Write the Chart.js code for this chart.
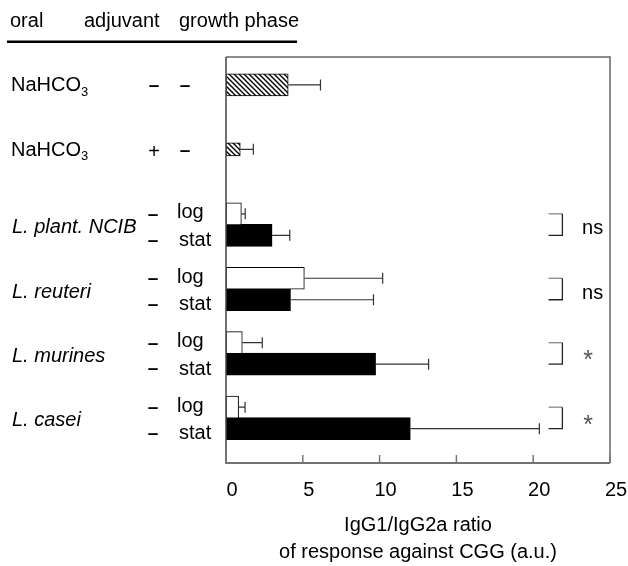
<!DOCTYPE html>
<html>
<head>
<meta charset="utf-8">
<title>IgG1/IgG2a ratio</title>
<script src="https://cdn.jsdelivr.net/npm/chart.js@4.4.1/dist/chart.umd.min.js"></script>
<style>
  html, body { margin: 0; padding: 0; background: #fff; }
  canvas { display: block; }
</style>
</head>
<body>
<canvas id="myChart" width="628" height="566"></canvas>
<script>
// control groups (hatched bars)
const controlNames = ['NaHCO', 'NaHCO'];
const controlAdjuvant = ['-', '+'];
const controlValues = [4.05, 0.93];
const controlErrors = [2.1, 0.85];

// lactobacilli, log vs stat growth phase
const strains = ['L. plant. NCIB', 'L. reuteri', 'L. murines', 'L. casei'];
const logValues = [1.0, 5.1, 1.06, 0.82];
const logErrors = [0.25, 5.1, 1.3, 0.42];
const statValues = [3.0, 4.2, 9.74, 12.0];
const statErrors = [1.15, 5.4, 3.45, 8.4];
const significance = ['ns', 'ns', '*', '*'];

const xTicks = [0, 5, 10, 15, 20, 25];
const xTitle = ['IgG1/IgG2a ratio', 'of response against CGG (a.u.)'];
const headers = ['oral', 'adjuvant', 'growth phase'];

const FONT = '"Liberation Sans", Arial, Helvetica, sans-serif';

// row index on the (hidden) y axis
const controlRow = i => i * 3;
const logRow = j => 6 + j * 3;
const statRow = j => 7 + j * 3;

function hatchPattern() {
    const c = document.createElement('canvas');
    c.width = 5; c.height = 5;
    const g = c.getContext('2d');
    g.fillStyle = '#fff';
    g.fillRect(0, 0, 5, 5);
    g.strokeStyle = '#000';
    g.lineWidth = 1.4;
    g.beginPath();
    g.moveTo(-1, -1); g.lineTo(6, 6);
    g.moveTo(-1, 4); g.lineTo(1, 6);
    g.moveTo(4, -1); g.lineTo(6, 1);
    g.stroke();
    return g.createPattern(c, 'repeat');
}
const hatch = hatchPattern();

const barBase = {
    grouped: false,
    borderColor: '#000',
    borderWidth: 1,
    borderSkipped: false
};

const datasets = [
    Object.assign({}, barBase, {
        label: 'NaHCO3 -',
        data: [{ x: controlValues[0], y: controlRow(0) }],
        errors: [controlErrors[0]],
        backgroundColor: hatch,
        barThickness: 22
    }),
    Object.assign({}, barBase, {
        label: 'NaHCO3 +',
        data: [{ x: controlValues[1], y: controlRow(1) }],
        errors: [controlErrors[1]],
        backgroundColor: hatch,
        barThickness: 13
    }),
    Object.assign({}, barBase, {
        label: 'log',
        data: logValues.map((v, j) => ({ x: v, y: logRow(j) })),
        errors: logErrors,
        backgroundColor: '#fff',
        barThickness: 22
    }),
    Object.assign({}, barBase, {
        label: 'stat',
        data: statValues.map((v, j) => ({ x: v, y: statRow(j) })),
        errors: statErrors,
        backgroundColor: '#000',
        barThickness: 22
    })
];

// frame, inward ticks
const framePlugin = {
    id: 'frame',
    beforeDraw(chart) {
        const ctx = chart.ctx;
        ctx.save();
        ctx.fillStyle = '#fff';
        ctx.fillRect(0, 0, chart.width, chart.height);
        ctx.restore();
    },
    afterDatasetsDraw(chart) {
        const ctx = chart.ctx;
        const a = chart.chartArea;
        const xs = chart.scales.x;
        ctx.save();
        ctx.lineWidth = 1.5;
        ctx.strokeStyle = '#666';
        ctx.beginPath();
        ctx.moveTo(a.left, a.top);
        ctx.lineTo(a.right, a.top);
        ctx.lineTo(a.right, a.bottom);
        ctx.stroke();
        ctx.strokeStyle = '#444';
        ctx.beginPath();
        ctx.moveTo(a.left, a.top);
        ctx.lineTo(a.left, a.bottom);
        ctx.lineTo(a.right, a.bottom);
        ctx.stroke();
        ctx.strokeStyle = '#777';
        xTicks.forEach(t => {
            const px = xs.getPixelForValue(t);
            ctx.beginPath();
            ctx.moveTo(px, a.bottom - 8);
            ctx.lineTo(px, a.bottom);
            ctx.stroke();
        });
        ctx.restore();
    }
};

// one sided error bars
const errorPlugin = {
    id: 'errorBars',
    afterDatasetsDraw(chart) {
        const ctx = chart.ctx;
        const xs = chart.scales.x;
        ctx.save();
        ctx.strokeStyle = '#333';
        ctx.lineWidth = 1.2;
        chart.data.datasets.forEach((ds, di) => {
            const meta = chart.getDatasetMeta(di);
            meta.data.forEach((bar, i) => {
                const end = xs.getPixelForValue(ds.data[i].x + ds.errors[i]);
                ctx.beginPath();
                ctx.moveTo(bar.x, bar.y);
                ctx.lineTo(end, bar.y);
                ctx.moveTo(end, bar.y - 5.5);
                ctx.lineTo(end, bar.y + 5.5);
                ctx.stroke();
            });
        });
        ctx.restore();
    }
};

// row labels, header, brackets
const labelPlugin = {
    id: 'labels',
    afterDraw(chart) {
        const ctx = chart.ctx;
        const ys = chart.scales.y;
        const xs = chart.scales.x;
        ctx.save();
        ctx.fillStyle = '#000';
        ctx.font = '20px ' + FONT;
        ctx.textAlign = 'left';
        ctx.textBaseline = 'alphabetic';
        ctx.fillText(headers[0], 10, 27);
        ctx.fillText(headers[1], 84, 27);
        ctx.fillText(headers[2], 179, 27);
        ctx.lineWidth = 2.5;
        ctx.strokeStyle = '#000';
        ctx.beginPath();
        ctx.moveTo(7, 41.8);
        ctx.lineTo(297, 41.8);
        ctx.stroke();

        const dash = (x, y) => {
            ctx.save();
            ctx.font = 'bold 19px ' + FONT;
            ctx.textAlign = 'center';
            ctx.textBaseline = 'middle';
            ctx.fillText('–', x, y);
            ctx.restore();
        };

        ctx.textBaseline = 'middle';
        controlNames.forEach((name, i) => {
            const y = ys.getPixelForValue(controlRow(i)) + 1;
            ctx.font = '20px ' + FONT;
            ctx.textAlign = 'left';
            ctx.fillText(name, 11, y);
            const w = ctx.measureText(name).width;
            ctx.font = '13px ' + FONT;
            ctx.fillText('3', 11 + w, y + 6);
            if (controlAdjuvant[i] === '+') {
                ctx.font = '20px ' + FONT;
                ctx.textAlign = 'center';
                ctx.fillText('+', 154, y + 2);
            } else {
                dash(154, y);
            }
            dash(185, y);
        });

        strains.forEach((name, j) => {
            const ly = ys.getPixelForValue(logRow(j));
            const sy = ys.getPixelForValue(statRow(j));
            const mid = (ly + sy) / 2;
            ctx.font = 'italic 20px ' + FONT;
            ctx.textAlign = 'left';
            ctx.fillText(name, 12, mid + 3);
            dash(153, ly + 1);
            dash(153, sy + 5);
            ctx.font = '20px ' + FONT;
            ctx.textAlign = 'left';
            ctx.fillText('log', 177, ly - 1);
            ctx.fillText('stat', 179, sy + 5);

            // bracket
            const bx1 = xs.getPixelForValue(21.0);
            const bx2 = xs.getPixelForValue(21.9);
            ctx.lineWidth = 1.3;
            ctx.strokeStyle = '#888';
            ctx.beginPath();
            ctx.moveTo(bx1, ly);
            ctx.lineTo(bx2, ly);
            ctx.stroke();
            ctx.strokeStyle = '#222';
            ctx.beginPath();
            ctx.moveTo(bx2, ly);
            ctx.lineTo(bx2, sy);
            ctx.lineTo(bx1, sy);
            ctx.stroke();

            if (significance[j] === '*') {
                ctx.save();
                ctx.fillStyle = '#555';
                ctx.font = '25px ' + FONT;
                ctx.textAlign = 'center';
                ctx.textBaseline = 'alphabetic';
                ctx.fillText('*', xs.getPixelForValue(23.57), mid + 0.5 + 0.575 * 25);
                ctx.restore();
            } else {
                ctx.font = '20px ' + FONT;
                ctx.textAlign = 'left';
                ctx.fillText(significance[j], xs.getPixelForValue(23.18), mid + 4);
            }
        });
        ctx.restore();
    }
};

const ctx = document.getElementById('myChart').getContext('2d');
const myChart = new Chart(ctx, {
    type: 'bar',
    data: { datasets: datasets },
    options: {
        responsive: false,
        animation: false,
        indexAxis: 'y',
        layout: {
            padding: { left: 226, top: 57, right: 18, bottom: 0 }
        },
        plugins: {
            legend: { display: false },
            tooltip: { enabled: false }
        },
        scales: {
            x: {
                type: 'linear',
                min: 0,
                max: 25,
                afterBuildTicks: (scale) => {
                    scale.ticks = xTicks.map(v => ({ value: v }));
                },
                afterFit: (scale) => {
                    scale.height = 103;
                    scale.paddingLeft = 0;
                    scale.paddingRight = 0;
                },
                grid: { display: false, drawTicks: false },
                border: { display: false },
                ticks: {
                    color: '#000',
                    font: { family: FONT, size: 20 },
                    padding: 15,
                    labelOffset: 6,
                    maxRotation: 0
                },
                title: {
                    display: true,
                    text: xTitle,
                    color: '#000',
                    font: { family: FONT, size: 20, lineHeight: 1.35 },
                    padding: { top: 0, bottom: 0.5 }
                }
            },
            y: {
                type: 'linear',
                display: false,
                reverse: true,
                offset: false,
                min: -1.3,
                max: 17.6
            }
        }
    },
    plugins: [framePlugin, errorPlugin, labelPlugin]
});
</script>
</body>
</html>
